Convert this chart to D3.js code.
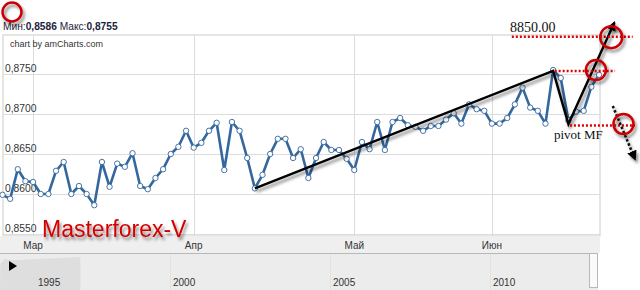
<!DOCTYPE html>
<html><head><meta charset="utf-8">
<script src="https://cdn.jsdelivr.net/npm/d3@7"></script>
<style>
html,body{margin:0;padding:0;background:#fff;}
svg{display:block;font-family:"Liberation Sans",Arial,sans-serif;}
</style></head>
<body><svg id="c" width="640" height="290"></svg>
<script>
// ---- data ----
const values = [0.8599,0.8594,0.8631,0.8616,0.8615,0.8600,0.8600,0.8629,0.8640,0.8600,
0.8610,0.8600,0.8586,0.8640,0.8609,0.8638,0.8634,0.8651,0.8610,0.8606,
0.8620,0.8631,0.8650,0.8659,0.8679,0.8658,0.8664,0.8679,0.8689,0.8630,
0.8690,0.8679,0.8645,0.8607,0.8624,0.8650,0.8669,0.8669,0.8645,0.8656,
0.8620,0.8645,0.8665,0.8655,0.8655,0.8644,0.8630,0.8665,0.8656,0.8690,
0.8655,0.8690,0.8695,0.8686,0.8684,0.8679,0.8685,0.8685,0.8693,0.8701,
0.8688,0.8712,0.8706,0.8704,0.8688,0.8688,0.8695,0.8712,0.8733,0.8708,
0.8704,0.8688,0.8755,0.8745,0.8692,0.8703,0.8704,0.8734,0.8749];
const yTicks = [0.8550,0.8600,0.8650,0.8700,0.8750];
const monthLabels = ["Мар","Апр","Май","Июн"];
const monthIdx = [4,25,46,64];
const yearLabels = [1995,2000,2005,2010];
const scrollArea = [[1993.7,0],[1994.7,0.80],[1994.85,0.95],[1995.1,0.90],[1997.2,1.0]];
// annotation (hand-drawn) in data coordinates
const trend = [[33,0.8607],[72,0.8754],[74,0.86875],[80,0.8814]];
const levels = [{v:0.87966,x0:66.6,x1:82.4},{v:0.87538,x0:72.2,x1:80.1},{v:0.86856,x0:74.2,x1:82.7}];
const rings = [[79.6,0.8796],[77.6,0.8755],[81.2,0.86875]];
const downArrow = [[79.8,0.8710],[82.7,0.86438]];

const svg = d3.select("#c");
const defs = svg.append("defs");
const f = defs.append("filter").attr("id","sh").attr("x","-50%").attr("y","-50%").attr("width","200%").attr("height","200%");
f.append("feDropShadow").attr("dx",2).attr("dy",3).attr("stdDeviation",1.5).attr("flood-color","#000").attr("flood-opacity",0.45);
defs.append("marker").attr("id","ah").attr("viewBox","0 0 10 10").attr("refX",8).attr("refY",5)
  .attr("markerWidth",4).attr("markerHeight",4).attr("orient","auto")
  .append("path").attr("d","M0,0L10,5L0,10z").attr("fill","#000");

const x = d3.scaleLinear().domain([0,78]).range([2.5,599]);
const y = d3.scaleLinear().domain([0.855,0.88]).range([234,34]);
const L=3,R=600,T=35,B=236;

// header
const hd = svg.append("text").attr("x",3).attr("y",30).attr("font-size",10.2).attr("fill","#1c2340");
hd.append("tspan").text("Мин:");
hd.append("tspan").attr("font-weight","bold").text("0,8586");
hd.append("tspan").text(" Макс:");
hd.append("tspan").attr("font-weight","bold").text("0,8755");
svg.append("circle").attr("cx",12).attr("cy",12).attr("r",9.5).attr("fill","none")
  .attr("stroke","#c00").attr("stroke-width",2.5).attr("filter","url(#sh)");

// plot
svg.append("rect").attr("x",L).attr("y",T).attr("width",R-L).attr("height",B-T).attr("fill","#fff").attr("stroke","#ccc");
svg.append("g").selectAll("line").data(yTicks).join("line")
  .attr("x1",L).attr("x2",R).attr("y1",d=>Math.round(y(d))+0.5).attr("y2",d=>Math.round(y(d))+0.5).attr("stroke","#dcdcdc");
svg.append("g").selectAll("line").data(monthIdx).join("line")
  .attr("x1",d=>Math.round(x(d))+0.5).attr("x2",d=>Math.round(x(d))+0.5).attr("y1",T).attr("y2",B).attr("stroke","#dcdcdc");
svg.append("g").selectAll("text").data(yTicks).join("text")
  .attr("x",5).attr("y",d=>y(d)-2.5).attr("font-size",10.3).attr("fill","#333")
  .text(d=>d3.format(".4f")(d).replace(".",","));
svg.append("text").attr("x",10).attr("y",47).attr("font-size",9).attr("fill","#333").text("chart by amCharts.com");

// category band
svg.append("rect").attr("x",0).attr("y",B).attr("width",600).attr("height",17).attr("fill","#efefef");
svg.append("g").selectAll("text").data(monthIdx).join("text")
  .attr("x",d=>x(d)).attr("y",249).attr("text-anchor","middle").attr("font-size",10).attr("fill","#333")
  .text((d,i)=>monthLabels[i]);

// scroller
const xs = d3.scaleLinear().domain([2000,2010]).range([170,490]);
const ys = d3.scaleLinear().domain([0,1]).range([290,257]);
svg.append("rect").attr("x",0).attr("y",253).attr("width",598).attr("height",37).attr("fill","#ececec");
svg.append("path").datum(scrollArea).attr("fill","#dedede")
  .attr("d",d3.area().x(d=>Math.max(0,xs(d[0]))).y0(290).y1(d=>ys(d[1])));
svg.append("g").selectAll("line").data(yearLabels.slice(1)).join("line")
  .attr("x1",d=>Math.round(xs(d))+0.5).attr("x2",d=>Math.round(xs(d))+0.5).attr("y1",254).attr("y2",290).attr("stroke","#e2e2e2");
svg.append("line").attr("x1",0).attr("x2",598).attr("y1",253.5).attr("y2",253.5).attr("stroke","#b8b8b8");
svg.append("rect").attr("x",589.5).attr("y",253.5).attr("width",8).attr("height",34).attr("fill","#fafafa").attr("stroke","#b8b8b8");
svg.append("path").attr("d","M9,261L17,266L9,271z").attr("fill","#000");
svg.append("g").selectAll("text").data(yearLabels).join("text")
  .attr("x",d=>Math.max(38,xs(d)+3)).attr("y",286).attr("font-size",10).attr("fill","#333").text(d=>d);

// series
const line = d3.line().x((d,i)=>x(i)).y(d=>y(d));
svg.append("path").datum(values).attr("d",line).attr("fill","none").attr("stroke","#33679e").attr("stroke-width",2.6).attr("stroke-linejoin","round");
svg.append("g").selectAll("circle").data(values).join("circle")
  .attr("cx",(d,i)=>x(i)).attr("cy",d=>y(d)).attr("r",2.7).attr("fill","#fff").attr("stroke","#33679e").attr("stroke-width",0.9);

// brand text
svg.append("text").attr("x",42).attr("y",237).attr("font-size",23).attr("fill","#d40000")
  .attr("filter","url(#sh)").text("Masterforex-V");

// annotations
const al = d3.line().x(d=>x(d[0])).y(d=>y(d[1]));
svg.append("path").datum(trend).attr("d",al).attr("fill","none").attr("stroke","#000").attr("stroke-width",2.4)
  .attr("stroke-linejoin","miter").attr("marker-end","url(#ah)").attr("filter","url(#sh)");
svg.append("g").selectAll("line").data(levels).join("line")
  .attr("x1",d=>x(d.x0)).attr("x2",d=>x(d.x1)).attr("y1",d=>y(d.v)).attr("y2",d=>y(d.v))
  .attr("stroke","#e00000").attr("stroke-width",2.5).attr("stroke-dasharray","2,2");
svg.append("path").datum(downArrow).attr("d",al).attr("fill","none").attr("stroke","#111").attr("stroke-width",2.5)
  .attr("stroke-dasharray","2.5,2").attr("marker-end","url(#ah)").attr("filter","url(#sh)");
svg.append("g").selectAll("circle").data(rings).join("circle")
  .attr("cx",d=>x(d[0])).attr("cy",d=>y(d[1])).attr("r",(d,i)=>i===0?11:10).attr("fill","none")
  .attr("stroke","#cc0000").attr("stroke-width",2.5).attr("filter","url(#sh)");
svg.append("text").attr("x",510).attr("y",32).attr("font-family","'Liberation Serif','Times New Roman',serif").attr("font-size",14).attr("fill","#111").text("8850.00");
svg.append("text").attr("x",554).attr("y",139).attr("font-family","'Liberation Serif','Times New Roman',serif").attr("font-size",13).attr("fill","#111").text("pivot MF");
</script></body></html>
